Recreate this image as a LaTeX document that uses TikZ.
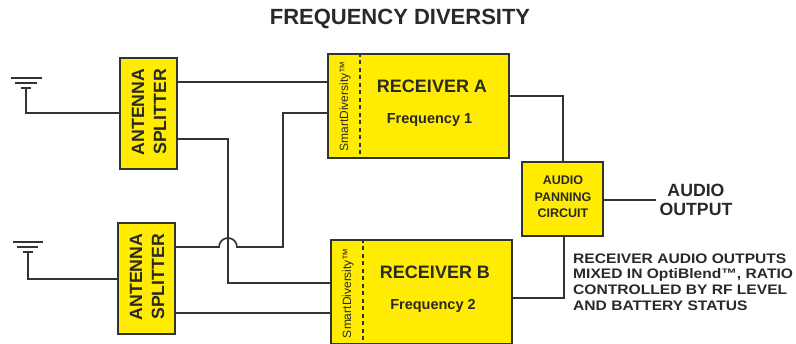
\documentclass[tikz,border=0pt]{standalone}
\usepackage{fontspec}
\setmainfont{Liberation Sans}[BoldFont={Liberation Sans Bold}]
\definecolor{boxy}{HTML}{FFEC00}
\definecolor{ink}{HTML}{33332E}
\definecolor{inktext}{HTML}{2A2A24}
\begin{document}
\begin{tikzpicture}[x=1pt,y=-1pt,
  wire/.style={draw=ink,line width=1.7pt,line join=miter},
  block/.style={draw=ink,fill=boxy,line width=1.8pt,inner sep=0pt,anchor=north west},
  splitter/.style={block,minimum width=57pt,minimum height=111pt},
  receiver/.style={block,minimum width=181pt,minimum height=104pt},
  lbl/.style={font=\bfseries,text=inktext,inner sep=0pt,align=center},
  rot/.style={lbl,rotate=90,font=\bfseries\fontsize{17.7}{22}\selectfont},
  smart/.style={text=inktext,inner sep=0pt,rotate=90,font=\fontsize{12}{14}\selectfont},
  recname/.style={lbl,font=\bfseries\fontsize{18}{20}\selectfont},
  freq/.style={lbl,font=\bfseries\fontsize{14.5}{16}\selectfont},
  gnd/.style={draw=ink,line width=1.7pt}]
\useasboundingbox (0,0) rectangle (796,344);
\node[lbl,font=\bfseries\fontsize{22}{24}\selectfont] (title) at (400,19) {FREQUENCY DIVERSITY};
% blocks
\node[splitter] (s1) at (119,57) {};
\node[splitter] (s2) at (117,222) {};
\node[receiver] (ra) at (327,53) {};
\node[receiver] (rb) at (330,239) {};
\node[block,minimum width=81pt,minimum height=74pt] (pan) at (521,161) {};
% labels
\node[rot] (s1t) at (149,112) {ANTENNA\\SPLITTER};
\node[rot] (s2t) at (147,277) {ANTENNA\\SPLITTER};
\node[smart] (sa) at (345,106.5) {SmartDiversity™};
\node[smart] (sb) at (348,293) {SmartDiversity™};
\coordinate (da1) at (360,53); \coordinate (da2) at (360,157);
\coordinate (db1) at (363,239); \coordinate (db2) at (363,343);
\draw[draw=ink,line width=1.7pt,dash pattern=on 4pt off 3.5pt] (da1) -- (da2);
\draw[draw=ink,line width=1.7pt,dash pattern=on 4pt off 3.5pt] (db1) -- (db2);
\node[recname] (rat) at (432,86) {RECEIVER A};
\node[recname] (rbt) at (435,272) {RECEIVER B};
\node[freq] (raf) at (429.5,120) {Frequency 1};
\node[freq] (rbf) at (433,306) {Frequency 2};
\node[lbl,font=\bfseries\fontsize{12.5}{16.5}\selectfont] (pant) at (563,197) {AUDIO\\PANNING\\CIRCUIT};
\node[lbl,font=\bfseries\fontsize{17.7}{18.5}\selectfont] (out) at (696,200) {AUDIO\\OUTPUT};
\node[lbl,align=left,anchor=west,xscale=1.13,font=\bfseries\fontsize{13.8}{15.8}\selectfont] (note) at (573,282) {RECEIVER AUDIO OUTPUTS\\MIXED IN OptiBlend™, RATIO\\CONTROLLED BY RF LEVEL\\AND BATTERY STATUS};
% grounds
\coordinate (g1) at (26,88);
\coordinate (g2) at (28,252);
\draw[gnd] (11,78) -- (42,78) (15,83) -- (37,83) (21,88) -- (31,88);
\draw[gnd] (13,242) -- (43,242) (17,247) -- (38,247) (23,252) -- (33,252);
% wires
\draw[wire] (g1) |- (s1.west |- 0,113);
\draw[wire] (g2) |- (s2.west |- 0,279);
\draw[wire] (s1.east |- 0,82) -- (ra.west |- 0,82);
\draw[wire] (s1.east |- 0,139) -| (228,283) -- (rb.west |- 0,283);
\draw[wire] (s2.east |- 0,247) -- (219,247) arc[start angle=180,end angle=0,radius=9,y radius=-9] -- (283,247) -- (283,113) -- (ra.west |- 0,113);
\draw[wire] (s2.east |- 0,313) -- (rb.west |- 0,313);
\draw[wire] (ra.east |- 0,96) -| (563,161) -- (pan.north -| 563,0);
\draw[wire] (rb.east |- 0,298) -| (564,235);
\draw[wire] (pan.east |- 0,200) -- (656,200);
\end{tikzpicture}
\end{document}
